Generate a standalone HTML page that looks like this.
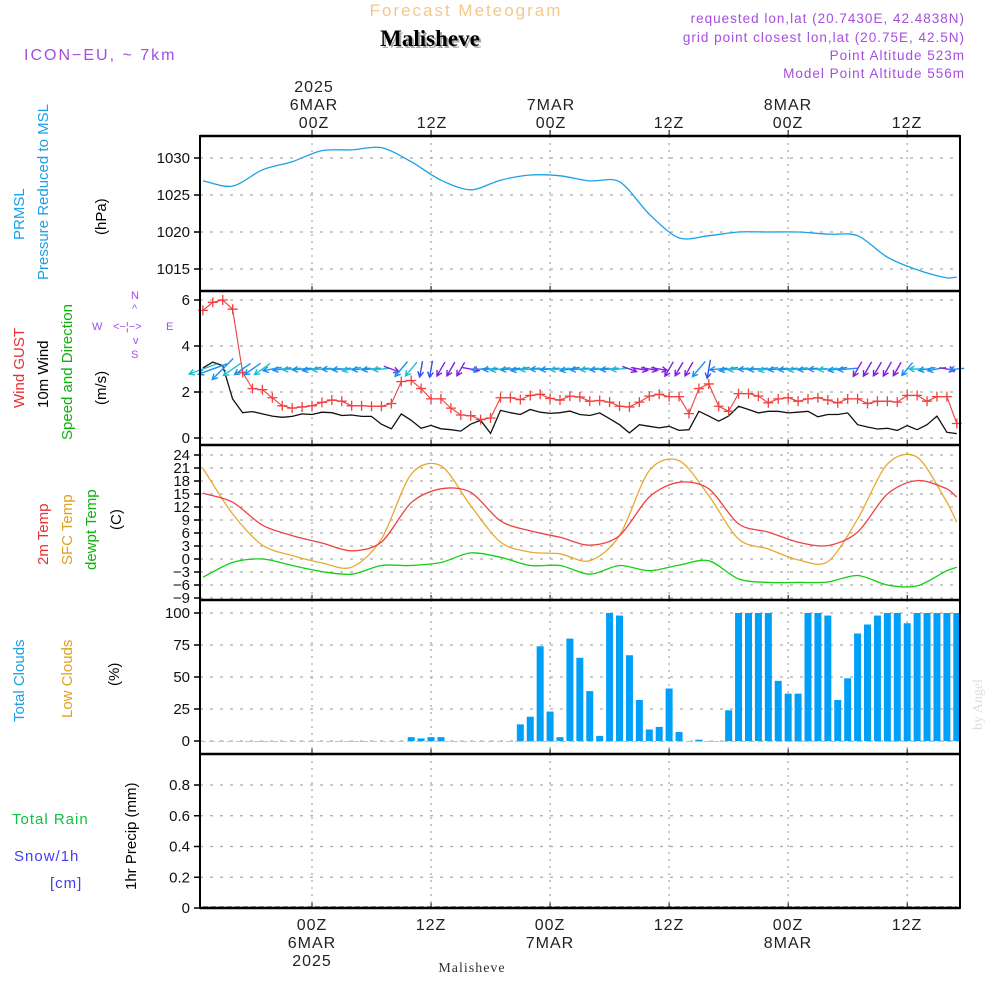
<!DOCTYPE html>
<html><head><meta charset="utf-8"><style>
body{margin:0;background:#fff;}
svg{display:block;font-family:"Liberation Sans",sans-serif;}
</style></head><body>
<svg id="c" width="1000" height="1000" viewBox="0 0 1000 1000">
<g>
<text x="466" y="16" text-anchor="middle" font-size="17" fill="#f2c98a" letter-spacing="2">Forecast Meteogram</text>
<text x="432" y="48" text-anchor="middle" font-size="23" font-weight="bold" font-family="Liberation Serif,serif" fill="#aaa">Malisheve</text>
<text x="430" y="46" text-anchor="middle" font-size="23" font-weight="bold" font-family="Liberation Serif,serif" fill="#000">Malisheve</text>
<text x="24" y="60" font-size="16" fill="#a64de0" letter-spacing="2">ICON−EU, ~ 7km</text>
<g font-size="13.5" fill="#a64de0" text-anchor="end" letter-spacing="1">
<text x="965" y="23">requested lon,lat (20.7430E, 42.4838N)</text>
<text x="965" y="42">grid point closest lon,lat (20.75E, 42.5N)</text>
<text x="965" y="60">Point Altitude 523m</text>
<text x="965" y="78">Model Point Altitude 556m</text>
</g>
</g>
<g id="top-axis" font-size="16" fill="#222" text-anchor="middle" letter-spacing="1">
<text x="314" y="92">2025</text><text x="314" y="110">6MAR</text><text x="314" y="128">00Z</text>
<text x="432" y="128">12Z</text>
<text x="551" y="110">7MAR</text><text x="551" y="128">00Z</text>
<text x="669" y="128">12Z</text>
<text x="788" y="110">8MAR</text><text x="788" y="128">00Z</text>
<text x="907" y="128">12Z</text>
</g>
<g id="bottom-axis" font-size="16" fill="#222" text-anchor="middle" letter-spacing="1">
<text x="312" y="930">00Z</text><text x="312" y="948">6MAR</text><text x="312" y="966">2025</text>
<text x="431" y="930">12Z</text>
<text x="550" y="930">00Z</text><text x="550" y="948">7MAR</text>
<text x="669" y="930">12Z</text>
<text x="788" y="930">00Z</text><text x="788" y="948">8MAR</text>
<text x="907" y="930">12Z</text>
<text x="472" y="972" font-size="14" font-family="Liberation Serif,serif" fill="#333">Malisheve</text>
</g>
<text transform="translate(982,730) rotate(-90)" font-size="14" font-family="Liberation Serif,serif" fill="#ddd">by Angel</text>
<g font-size="15">
<text transform="translate(24,240) rotate(-90)" fill="#1aa0e8">PRMSL</text>
<text transform="translate(48,280) rotate(-90)" fill="#1aa0e8">Pressure Reduced to MSL</text>
<text transform="translate(106,235) rotate(-90)" fill="#000">(hPa)</text>
<text transform="translate(24,408) rotate(-90)" fill="#e83030">Wind GUST</text>
<text transform="translate(48,408) rotate(-90)" fill="#000">10m Wind</text>
<text transform="translate(72,440) rotate(-90)" fill="#10b010">Speed and Direction</text>
<text transform="translate(106,405) rotate(-90)" fill="#000">(m/s)</text>
<text transform="translate(48,565) rotate(-90)" fill="#e83030">2m Temp</text>
<text transform="translate(72,565) rotate(-90)" fill="#e0a020">SFC Temp</text>
<text transform="translate(96,570) rotate(-90)" fill="#10b010">dewpt Temp</text>
<text transform="translate(121,530) rotate(-90)" fill="#000">(C)</text>
<text transform="translate(24,722) rotate(-90)" fill="#1aa0e8">Total Clouds</text>
<text transform="translate(72,718) rotate(-90)" fill="#e0a020">Low Clouds</text>
<text transform="translate(119,686) rotate(-90)" fill="#000">(%)</text>
<text x="12" y="824" fill="#10c040" letter-spacing="1">Total  Rain</text>
<text x="14" y="861" fill="#4040f0" letter-spacing="1">Snow/1h</text>
<text x="50" y="888" fill="#4040f0" letter-spacing="1">[cm]</text>
<text transform="translate(136,890) rotate(-90)" fill="#000">1hr Precip (mm)</text>
</g>
<g font-size="11" fill="#a64de0">
<text x="131" y="299">N</text><text x="92" y="330">W</text><text x="166" y="330">E</text><text x="131" y="358">S</text>
<text x="113" y="330">&lt;−¦−&gt;</text>
<text x="132" y="312">^</text><text x="133" y="344">v</text>
</g>
<g id="plots"></g>
</svg>
<script>
// time axis: hours from 00Z 6MAR
const hours = Array.from({length:77},(_, i)=>i-11);
const hours3 = [-11,-8,-5,-2,1,4,7,10,13,16,19,22,25,28,31,34,37,40,43,46,49,52,55,58,61,64,65];
const pressure = [1026.9,1026.2,1028.4,1029.5,1031,1031.1,1031.4,1029.5,1027,1025.7,1027,1027.7,1027.6,1026.9,1026.8,1022.4,1019.2,1019.5,1020,1020,1020,1019.7,1019.5,1016.6,1014.9,1013.8,1013.9];
const gust = [5.55,5.9,6.0,5.6,2.85,2.15,2.1,1.75,1.4,1.3,1.35,1.4,1.55,1.65,1.6,1.4,1.4,1.38,1.38,1.5,2.45,2.5,2.15,1.7,1.7,1.3,1.0,0.97,0.8,0.87,1.75,1.75,1.67,1.85,1.9,1.72,1.65,1.82,1.78,1.6,
1.63,1.56,1.38,1.35,1.56,1.82,1.9,1.8,1.8,1.06,2.15,2.35,1.38,1.16,1.93,1.93,1.82,1.53,1.7,1.75,1.6,1.7,1.75,1.65,1.53,1.7,1.7,1.5,1.6,1.6,1.56,1.85,1.85,1.6,1.8,1.8,0.63];
const wind = [3.05,3.3,3.15,1.7,1.1,1.15,1.05,0.95,0.9,0.94,1.05,1.02,1.12,1.1,0.98,1.0,0.94,0.94,0.6,0.4,1.05,0.77,0.42,0.55,0.4,0.36,0.3,0.6,0.77,0.2,1.2,1.1,1.02,1.24,1.12,1.07,1.1,1.17,1.02,0.98,
1.09,0.84,0.58,0.22,0.58,0.51,0.44,0.51,0.33,0.36,1.16,0.95,0.73,0.95,1.38,1.24,1.09,1.16,1.16,1.09,1.12,1.16,0.92,1.02,1.02,1.09,0.58,0.48,0.39,0.42,0.33,0.54,0.36,0.58,0.95,0.25,0.19];
// wind direction (meteorological, degrees from)
const windDir = [70,70,45,55,55,55,55,80,82,85,85,80,85,88,85,80,85,85,85,290,40,40,10,10,30,30,30,280,85,85,82,85,80,85,88,85,85,80,85,85,
85,85,85,290,280,280,280,30,30,30,40,10,85,80,85,88,85,80,85,85,82,85,88,85,80,85,30,30,30,30,30,40,90,80,80,280,85];
const temp2m = [15.2,13.1,7.8,5.4,3.7,1.9,3.9,13,16.2,15.4,8.8,6.5,5.0,3.2,5.4,14.3,17.7,16.2,8.1,6.2,3.9,3.1,6.2,15,18.1,16.2,14.3];
const tempSfc = [20.9,10.4,3.2,0.8,-0.9,-1.9,4.6,19.6,21.5,12.3,3.9,1.6,1.2,-0.4,5.4,20.4,22.7,14.6,4.6,2.3,-0.2,-0.6,9.2,21.9,23.5,13.1,8.5];
const dewpt = [-4.2,-0.8,0,-1.5,-2.9,-3.5,-1.5,-1.5,-0.8,1.4,0.4,-1.5,-1.5,-3.5,-1.5,-2.7,-1.4,-0.4,-4.6,-5.4,-5.4,-5.3,-3.8,-6.0,-6.2,-2.7,-1.9];
const totalClouds = [0,0,0,0,0,0,0,0,0,0,0,0,0,0,0,0,0,0,0,0,0,3,2,3,3,0,0,0,0,0,0,0,
13,19,74,23,3,80,65,39,4,100,98,67,32,9,11,41,7,0,1,0,0,24,100,100,100,100,47,37,37,100,100,98,32,49,84,91,98,100,100,92,100,100,100,100,100];
const lowClouds = new Array(77).fill(0);
const precip = new Array(77).fill(0);
const pressTicks = [1015,1020,1025,1030];
const windTicks = [0,2,4,6];
const tempTicks = [-9,-6,-3,0,3,6,9,12,15,18,21,24];
const cloudTicks = [0,25,50,75,100];
const precipTicks = [0,0.2,0.4,0.6,0.8];
const gridHours = [0,12,24,36,48,60];

const NS='http://www.w3.org/2000/svg';
const X0=200,X1=960;
const xs = h => 312 + h*9.92;
function lin(d0,d1,r0,r1){return v=>r0+(v-d0)*(r1-r0)/(d1-d0);}
const panels=[
 {name:'pressure-panel',top:136,bot:291,y:lin(1015,1030,269,158),ticks:pressTicks,fmt:v=>v},
 {name:'wind-panel',top:291,bot:445,y:lin(0,6,438,300),ticks:windTicks,fmt:v=>v},
 {name:'temperature-panel',top:445,bot:600,y:lin(-9,24,598,455),ticks:tempTicks,fmt:v=>v<0?'−'+(-v):v},
 {name:'clouds-panel',top:600,bot:754,y:lin(0,100,741,613),ticks:cloudTicks,fmt:v=>v},
 {name:'precip-panel',top:754,bot:908,y:lin(0,0.8,908,785),ticks:precipTicks,fmt:v=>v===0?'0':v.toFixed(1)}
];
const root=document.getElementById('plots');
function mk(tag,attrs,parent){const e=document.createElementNS(NS,tag);for(const k in attrs)e.setAttribute(k,attrs[k]);(parent||root).appendChild(e);return e;}
function poly(xsArr,ysArr,stroke,w,parent,name){
  const p=mk('polyline',{points:xsArr.map((x,i)=>x.toFixed(1)+','+ysArr[i].toFixed(1)).join(' '),fill:'none',stroke:stroke,'stroke-width':w},parent);
  
  
  return p;
}
function smooth(xsArr,ysArr,stroke,w,parent,name){
  let d='M'+xsArr[0].toFixed(1)+','+ysArr[0].toFixed(1);
  const n=xsArr.length;
  for(let i=0;i<n-1;i++){
    const p0=[xsArr[Math.max(0,i-1)],ysArr[Math.max(0,i-1)]],p1=[xsArr[i],ysArr[i]],p2=[xsArr[i+1],ysArr[i+1]],p3=[xsArr[Math.min(n-1,i+2)],ysArr[Math.min(n-1,i+2)]];
    const t=0.3;
    const c1=[p1[0]+(p2[0]-p0[0])*t/ (p2[0]-p0[0]||1)*(p2[0]-p1[0]), p1[1]+(p2[1]-p0[1])*t*(p2[0]-p1[0])/(p2[0]-p0[0]||1)];
    const c2=[p2[0]-(p3[0]-p1[0])*t/(p3[0]-p1[0]||1)*(p2[0]-p1[0]), p2[1]-(p3[1]-p1[1])*t*(p2[0]-p1[0])/(p3[0]-p1[0]||1)];
    d+=`C${c1[0].toFixed(1)},${c1[1].toFixed(1)} ${c2[0].toFixed(1)},${c2[1].toFixed(1)} ${p2[0].toFixed(1)},${p2[1].toFixed(1)}`;
  }
  const p=mk('path',{d:d,fill:'none',stroke:stroke,'stroke-width':w},parent);
  
  
  return p;
}
panels.forEach(P=>{
  const g=mk('g',{});
  
  
  P.g=g;
  gridHours.forEach(h=>{
    const l=mk('line',{x1:xs(h),x2:xs(h),y1:P.top,y2:P.bot,stroke:'#aaa','stroke-width':1.3,'stroke-dasharray':'2,5'},g);
    
    
    mk('line',{x1:xs(h),x2:xs(h),y1:P.bot-5,y2:P.bot,stroke:'#000','stroke-width':1},g);
  });
  P.ticks.forEach(t=>{
    const y=P.y(t);
    const l=mk('line',{x1:X0,x2:X1,y1:y,y2:y,stroke:'#aaa','stroke-width':1.3,'stroke-dasharray':'3,7'},g);
    
    
    mk('line',{x1:X0-6,x2:X0,y1:y,y2:y,stroke:'#000','stroke-width':1.5},g);
    const tx=mk('text',{x:X0-10,y:y+5,'text-anchor':'end','font-size':15,fill:'#111'},g);
    tx.textContent=P.fmt(t);
    
    
  });
});
// pressure
smooth(hours3.map(xs),pressure.map(panels[0].y),'#1aa0e8',1.3,panels[0].g,'pressure-line');
// wind
const wy=panels[1].y;
poly(hours.map(xs),wind.map(wy),'#111',1.3,panels[1].g,'wind-speed-line');
poly(hours.map(xs),gust.map(wy),'#f04040',1.1,panels[1].g,'wind-gust-line');
hours.forEach((h,i)=>{
  const x=xs(h),y=wy(gust[i]);
  const m=mk('path',{d:`M${x-5},${y}h10M${x},${y-5}v10`,stroke:'#f04040','stroke-width':1.3},panels[1].g);
  
  
});
hours.forEach((h,i)=>{
  const d=windDir[i];
  const to=(d+180)*Math.PI/180;
  const dx=Math.sin(to), dy=-Math.cos(to);
  const L=14+wind[i]*5;
  const x=xs(h), y=369;
  const col = (d>=250)? '#8020e0' : (d<=35? (d<=15?'#3050f0':'#8020e0') : (i%3===0?'#20c0d0':'#1a90f0'));
  const x2=x+dx*L/2,y2=y+dy*L/2,x1=x-dx*L/2,y1=y-dy*L/2;
  const a=0.5, hl=6;
  const bx=-dx,by=-dy;
  const h1x=x2+hl*(bx*Math.cos(a)-by*Math.sin(a)),h1y=y2+hl*(bx*Math.sin(a)+by*Math.cos(a));
  const h2x=x2+hl*(bx*Math.cos(-a)-by*Math.sin(-a)),h2y=y2+hl*(bx*Math.sin(-a)+by*Math.cos(-a));
  const ar=mk('path',{d:`M${x1},${y1}L${x2},${y2}M${h1x},${h1y}L${x2},${y2}L${h2x},${h2y}`,stroke:col,'stroke-width':1.4,fill:'none'},panels[1].g);
  
  
});
// temps
const ty=panels[2].y;
smooth(hours3.map(xs),tempSfc.map(ty),'#e8a830',1.3,panels[2].g,'sfc-temp-line');
smooth(hours3.map(xs),temp2m.map(ty),'#f04040',1.3,panels[2].g,'2m-temp-line');
smooth(hours3.map(xs),dewpt.map(ty),'#10d010',1.3,panels[2].g,'dewpoint-line');
// clouds
const cy=panels[3].y;
hours.forEach((h,i)=>{
  const v=totalClouds[i]; if(v<=0) return;
  const x=Math.max(X0,xs(h)-3.5), w=Math.min(X1,xs(h)+3.5)-x;
  const r=mk('rect',{x:x,y:cy(v),width:w,height:cy(0)-cy(v),fill:'#009ff8'},panels[3].g);
  
  
});
poly([X0,X1],[cy(0)+0.5,cy(0)+0.5],'#e8c070',1,panels[3].g,'low-clouds-baseline').setAttribute('stroke-dasharray','6,3');
hours.forEach((h,i)=>{
  const v=lowClouds[i]; if(v<=0) return;
  const r=mk('rect',{x:xs(h)-3.5,y:cy(v),width:7,height:cy(0)-cy(v),fill:'#e0a020'},panels[3].g);
  
  
});
// precip
const py=panels[4].y;
poly(hours.map(xs),precip.map(py).map(v=>v-1),'#333',1.2,panels[4].g,'precip-line').setAttribute('stroke-dasharray','5,3');
// frame
panels.forEach(P=>{
  const r=mk('rect',{x:X0,y:P.top,width:X1-X0,height:P.bot-P.top,fill:'none',stroke:'#000','stroke-width':2});
  
  
});
[136,291,445,600,754,908].forEach(y=>mk('line',{x1:X0,x2:X1,y1:y,y2:y,stroke:'#000','stroke-width':2.5}));
gridHours.forEach(h=>mk('line',{x1:xs(h),x2:xs(h),y1:130,y2:136,stroke:'#000','stroke-width':1}));
</script>
</body></html>
